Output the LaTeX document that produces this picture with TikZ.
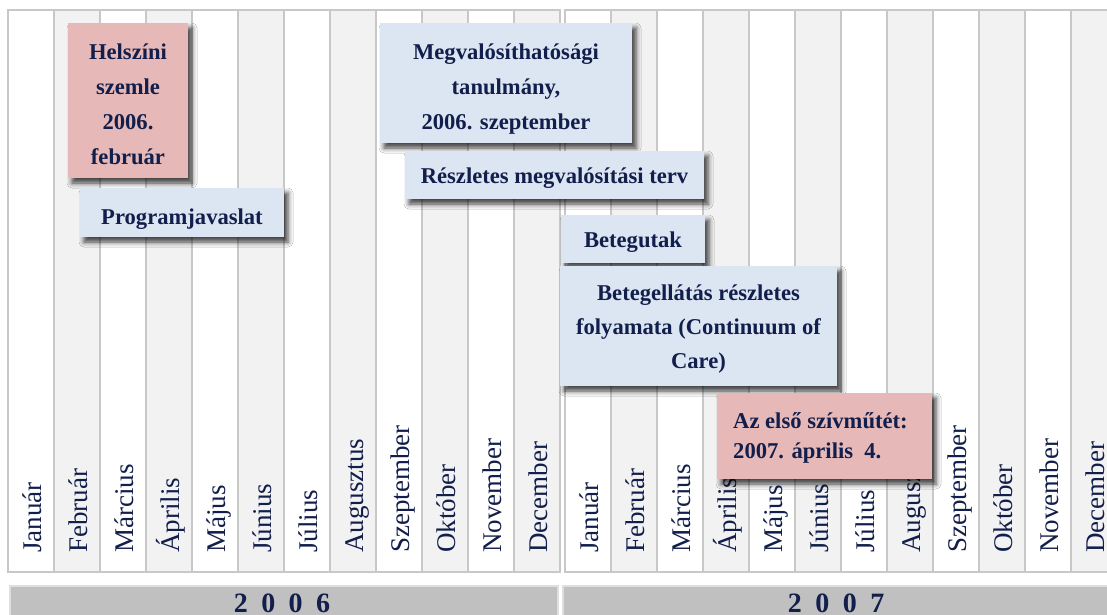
\documentclass[tikz,border=0pt]{standalone}
\usepackage{fontspec}
\setmainfont{Liberation Serif}[BoldFont={* Bold}]
\usetikzlibrary{shadows.blur}
\definecolor{navy}{RGB}{18,30,75}
\definecolor{gridline}{RGB}{200,200,200}
\definecolor{colgrey}{RGB}{242,242,242}
\definecolor{barfill}{RGB}{192,192,192}
\definecolor{barline}{RGB}{222,222,222}
\definecolor{pinkbox}{RGB}{230,185,184}
\definecolor{bluebox}{RGB}{220,230,242}
\tikzset{
  monthcol/.style={draw=gridline, line width=1.1pt},
  monthlabel/.style={rotate=90, anchor=base west, inner sep=0pt, text=navy,
    font=\fontsize{27}{27}\selectfont},
  yearbar/.style={fill=barfill, draw=barline, line width=1.5pt},
  yeartext/.style={anchor=base, inner sep=0pt, text=navy,
    font=\fontsize{28}{28}\selectfont\bfseries},
  evbox/.style={inner sep=0pt, draw=none,
    blur shadow={shadow xshift=4pt, shadow yshift=-5pt, shadow blur radius=5pt, shadow opacity=75}},
  pinkev/.style={evbox, fill=pinkbox},
  blueev/.style={evbox, fill=bluebox},
  evtext/.style={inner sep=0pt, text=navy, align=center,
    font=\fontsize{22.6}{35}\selectfont\bfseries},
}
\begin{document}
\begin{tikzpicture}[x=1pt, y=-1pt]
\useasboundingbox (0,0) rectangle (1107,614);
\fill[white] (0,0) rectangle (1107,614);

% month columns 2006
\foreach \i in {0,...,11} {
  \pgfmathsetmacro\xl{8+46*\i}
  \ifodd\i
    \filldraw[monthcol, fill=colgrey] (\xl,10) rectangle ++(46,562);
  \else
    \filldraw[monthcol, fill=white] (\xl,10) rectangle ++(46,562);
  \fi
}
% month columns 2007
\foreach \i in {0,...,11} {
  \pgfmathsetmacro\xl{565+46*\i}
  \ifodd\i
    \filldraw[monthcol, fill=colgrey] (\xl,10) rectangle ++(46,562);
  \else
    \filldraw[monthcol, fill=white] (\xl,10) rectangle ++(46,562);
  \fi
}

% month labels
\foreach \m [count=\i from 0] in {Január,Február,Március,Április,Május,Június,Július,Augusztus,Szeptember,Október,November,December} {
  \node[monthlabel] (ma\i) at ({8+46*\i+33},553) {\m};
  \node[monthlabel] (mb\i) at ({565+46*\i+33},553) {\m};
}

% year bars
\draw[yearbar] (10,586) rectangle (558,620);
\draw[yearbar] (563,586) rectangle (1115,620);
\node[yeartext] (y2006) at (282,612) {2\hspace{13.5pt}0\hspace{13.5pt}0\hspace{13.5pt}6};
\node[yeartext] (y2007) at (836,612) {2\hspace{13.5pt}0\hspace{13.5pt}0\hspace{13.5pt}7};

% event boxes
\node[pinkev, minimum width=120pt, minimum height=155pt] (hel) at (128,100.5) {};
\node[evtext] (helt) at (128,104) {Helszíni\\szemle\\2006.\\február};

\node[blueev, minimum width=204pt, minimum height=49pt] (prog) at (182,212.5) {};
\node[evtext] (progt) at (182,219) {Programjavaslat};

\node[blueev, minimum width=252pt, minimum height=120pt] (megv) at (506,83) {};
\node[evtext] (megvt) at (506,89) {Megvalósíthatósági\\tanulmány,\\2006. szeptember};

\node[blueev, minimum width=299pt, minimum height=48pt] (resz) at (554.5,175) {};
\node[evtext] (reszt) at (554.5,178) {Részletes megvalósítási terv};

\node[blueev, minimum width=144pt, minimum height=48pt] (beteg) at (633,239) {};
\node[evtext] (betegt) at (633,242) {Betegutak};

\node[blueev, minimum width=277pt, minimum height=120pt] (ella) at (698.5,326) {};
\node[evtext, font=\fontsize{22.6}{34}\selectfont\bfseries] (ellat) at (698.5,329.5) {Betegellátás részletes\\folyamata (Continuum of\\Care)};

\node[pinkev, minimum width=215pt, minimum height=86pt] (elso) at (824.5,436) {};
\node[evtext, align=left, anchor=west, font=\fontsize{22.6}{30}\selectfont\bfseries] (elsot) at (733,438) {Az első szívműtét:\\2007. április\ \ 4.};
\end{tikzpicture}
\end{document}
